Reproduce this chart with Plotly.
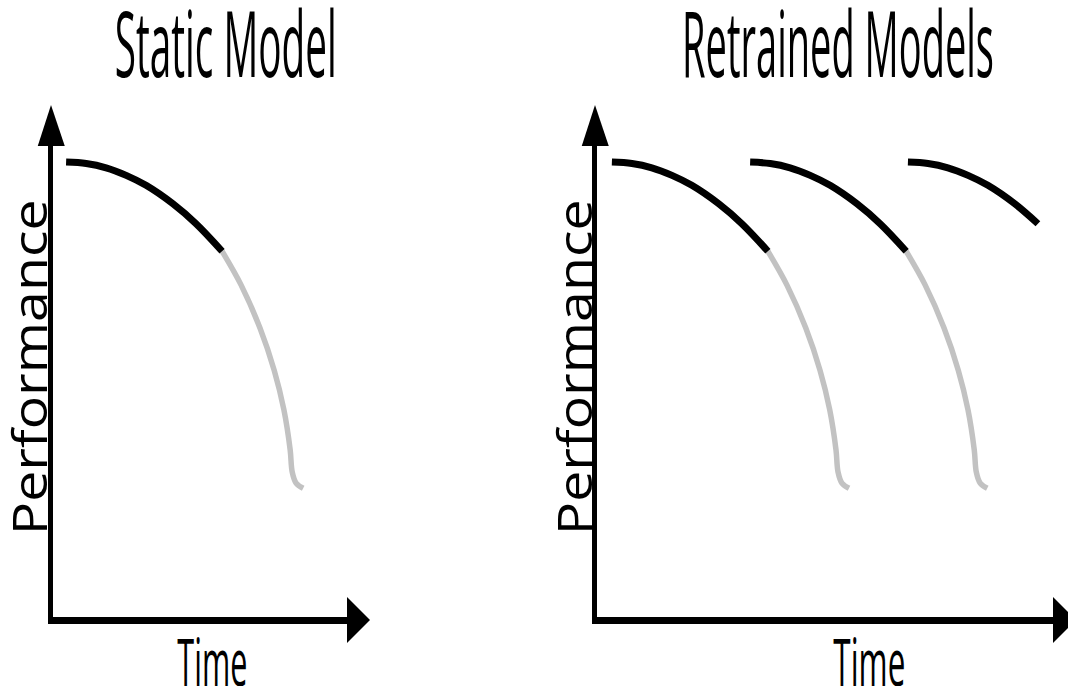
import plotly.graph_objects as go

# Shared decay profile of a deployed model: time since deployment vs. performance
decay_offset = [0, 0.68, 1.35, 2.03, 2.70, 3.61, 4.39, 5.27, 5.91, 6.55, 7.03, 7.36, 7.57, 7.64, 7.77, 8.01]
decay_perf = [96.6, 96.3, 95.4, 93.8, 91.7, 87.8, 83.6, 77.8, 70.7, 61.6, 52.7, 44.3, 35.9, 31.2, 28.9, 27.8]
split_index = 7  # last point of the solid (black) segment; the rest is the faded projection

# Deployment times
static_deploy = [0.51]
retrained_deploy = [0.57, 5.24, 10.57]
now_time = 14.96  # the latest retrained model is only observed up to here

W, H = 1068, 686
BLACK = "#000000"
GRAY = "#c2c2c2"
FONT = "Open Sans"

fig = go.Figure()


def add_model(deploy, xaxis, yaxis, t_end=None):
    xs = [deploy + o for o in decay_offset]
    pts = list(zip(xs, decay_perf))
    if t_end is not None:
        pts = [p for p in pts if p[0] <= t_end + 1e-9]
    solid = pts[: split_index + 1]
    faded = pts[split_index:]
    if len(faded) > 1:
        fig.add_trace(go.Scatter(
            x=[p[0] for p in faded], y=[p[1] for p in faded], mode="lines",
            line=dict(color=GRAY, width=5.5, shape="spline"),
            xaxis=xaxis, yaxis=yaxis, hoverinfo="skip", showlegend=False))
    fig.add_trace(go.Scatter(
        x=[p[0] for p in solid], y=[p[1] for p in solid], mode="lines",
        line=dict(color=BLACK, width=7, shape="spline"),
        xaxis=xaxis, yaxis=yaxis, hoverinfo="skip", showlegend=False))


for d in static_deploy:
    add_model(d, "x", "y")
for i, d in enumerate(retrained_deploy):
    add_model(d, "x2", "y2", t_end=now_time if i == len(retrained_deploy) - 1 else None)

# Axis geometry (pixels in the 1068x686 canvas)
y_dom = [(H - 616.75) / H, (H - 146) / H]
axis_common = dict(showgrid=False, zeroline=False, showticklabels=False, ticks="",
                   showline=True, linecolor=BLACK)
fig.update_layout(
    xaxis=dict(domain=[53.25 / W, 347 / W], range=[0.076, 10.0], linewidth=6.5, **axis_common),
    yaxis=dict(domain=y_dom, range=[0.686, 100], linewidth=4.5, **axis_common),
    xaxis2=dict(domain=[597.25 / W, 1053 / W], range=[0.076, 15.47], linewidth=6.5,
                anchor="y2", **axis_common),
    yaxis2=dict(domain=y_dom, range=[0.686, 100], linewidth=4.5, anchor="x2", **axis_common),
)

# Arrowheads at the ends of the axes
shapes = []
for xr, yr in (("x", "y"), ("x2", "y2")):
    shapes.append(dict(type="path", xref=f"{xr} domain", yref=f"{yr} domain",
                       xsizemode="pixel", ysizemode="pixel", xanchor=0, yanchor=1,
                       path="M -15.5,0 L 11.5,0 L -2.25,41 Z",
                       fillcolor=BLACK, line=dict(width=0)))
    shapes.append(dict(type="path", xref=f"{xr} domain", yref=f"{yr} domain",
                       xsizemode="pixel", ysizemode="pixel", xanchor=1, yanchor=0,
                       path="M 0,19.75 L 0,-26.25 L 23,-3.25 Z",
                       fillcolor=BLACK, line=dict(width=0)))
fig.update_layout(shapes=shapes)

# Titles and axis labels (base size; the lettering is stretched afterwards)
labels = [
    dict(text="Static Model", x=225, y=42, size=40, angle=0),
    dict(text="Retrained Models", x=838, y=42, size=40, angle=0),
    dict(text="Time", x=212, y=660, size=30, angle=0),
    dict(text="Time", x=869, y=660, size=30, angle=0),
    dict(text="Performance", x=28, y=367, size=28, angle=-90),
    dict(text="Performance", x=573, y=367, size=28, angle=-90),
]
for lab in labels:
    fig.add_annotation(text=lab["text"], xref="paper", yref="paper",
                       x=lab["x"] / W, y=(H - lab["y"]) / H,
                       xanchor="center", yanchor="middle", showarrow=False,
                       textangle=lab["angle"],
                       font=dict(family=FONT, size=lab["size"], color=BLACK))

fig.update_layout(width=W, height=H, margin=dict(l=0, r=0, t=0, b=0),
                  paper_bgcolor="white", plot_bgcolor="white", showlegend=False)

# Condensed, tall lettering: fit each label to a target length along its reading
# direction and stretch it across that direction by a fixed factor.
squeeze_js = """
var gd = document.getElementById('{plot_id}');
var targets = {0: [222, 2.28], 1: [312, 2.28], 2: [70, 2.18], 3: [72, 2.18],
               4: [336, 1.7], 5: [336, 1.7]};
gd.querySelectorAll('g.annotation').forEach(function (g) {
  var i = g.getAttribute('data-index');
  var t = g.querySelector('text.annotation-text');
  var f = targets[i];
  if (!t || !f) return;
  var b = t.getBBox();
  var cx = b.x + b.width / 2, cy = b.y + b.height / 2;
  var sx = f[0] / b.width, sy = f[1];
  t.setAttribute('transform', 'translate(' + cx + ',' + cy + ') scale(' + sx + ',' + sy +
    ') translate(' + (-cx) + ',' + (-cy) + ')');
});
"""

fig.write_html("out.html", post_script=squeeze_js)
